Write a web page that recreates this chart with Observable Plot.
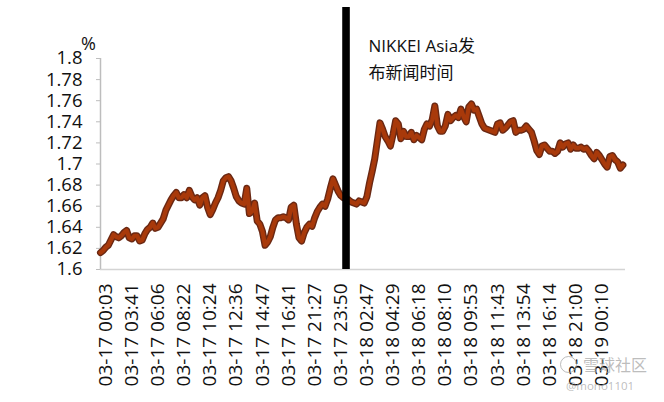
<!DOCTYPE html>
<html><head><meta charset="utf-8">
<script src="https://cdn.jsdelivr.net/npm/d3@7"></script>
<script src="https://cdn.jsdelivr.net/npm/@observablehq/plot@0.6"></script>
<style>
html,body{margin:0;padding:0;background:#fff;}
#wrap{position:relative;width:664px;height:402px;overflow:hidden;background:#fff;}
.wm{position:absolute;color:rgba(160,160,160,0.7);font-family:"Noto Sans CJK SC","Open Sans",sans-serif;white-space:nowrap;}
</style></head><body><div id="wrap"></div>
<script>
// Category labels shown on the x axis (time stamps)
const timeLabels = ["03-17 00:03","03-17 03:41","03-17 06:06","03-17 08:22","03-17 10:24","03-17 12:36","03-17 14:47","03-17 16:41","03-17 21:27","03-17 23:50","03-18 02:47","03-18 04:29","03-18 06:18","03-18 08:10","03-18 09:53","03-18 11:43","03-18 13:54","03-18 16:14","03-18 21:00","03-19 00:10"];
// sample index at which each label sits
const labelSample = [2,12,22,32,42,52,62,72,82,92,102,112,122,132,142,152,162,172,182,192];
// yield (%), one value per sample
const yieldValues = [
1.616,1.618,1.621,1.623,1.628,1.633,1.631,1.630,1.632,1.635,
1.637,1.630,1.629,1.632,1.632,1.627,1.628,1.634,1.638,1.640,
1.644,1.639,1.640,1.644,1.648,1.656,1.661,1.666,1.670,1.673,
1.668,1.668,1.671,1.668,1.675,1.669,1.666,1.668,1.661,1.668,
1.670,1.659,1.652,1.657,1.663,1.668,1.675,1.684,1.687,1.688,
1.684,1.677,1.669,1.665,1.663,1.662,1.677,1.653,1.655,1.663,
1.646,1.643,1.636,1.623,1.626,1.631,1.640,1.647,1.649,1.649,
1.650,1.649,1.647,1.659,1.661,1.643,1.630,1.627,1.635,1.640,
1.643,1.641,1.649,1.655,1.659,1.662,1.660,1.667,1.677,1.686,
1.680,1.674,1.670,1.668,1.667,1.666,1.664,1.663,1.662,1.665,
1.664,1.663,1.669,1.682,1.693,1.705,1.722,1.739,1.733,1.726,
1.722,1.717,1.728,1.741,1.738,1.724,1.731,1.726,1.726,1.730,
1.723,1.727,1.725,1.723,1.733,1.738,1.736,1.742,1.755,1.736,
1.731,1.731,1.736,1.747,1.741,1.744,1.746,1.744,1.752,1.745,
1.740,1.754,1.757,1.751,1.752,1.745,1.738,1.734,1.733,1.732,
1.731,1.730,1.738,1.739,1.732,1.734,1.737,1.740,1.741,1.730,
1.732,1.732,1.733,1.736,1.733,1.730,1.722,1.713,1.709,1.717,
1.718,1.715,1.712,1.712,1.710,1.712,1.720,1.716,1.719,1.720,
1.714,1.718,1.715,1.715,1.716,1.714,1.715,1.712,1.708,1.705,
1.711,1.708,1.704,1.700,1.697,1.707,1.708,1.704,1.702,1.696,
1.699];
const yTicks = [1.6,1.62,1.64,1.66,1.68,1.7,1.72,1.74,1.76,1.78,1.8];
const eventSample = [94.0]; // NIKKEI Asia publication time
const eventText = ["NIKKEI Asia发\n布新闻时间"];
const unitLabel = ["%"];

const font = "'Open Sans','Noto Sans CJK SC',sans-serif";
const chart = Plot.plot({
  width: 664, height: 402,
  marginLeft: 100, marginRight: 39, marginTop: 7, marginBottom: 133,
  style: {fontFamily: font, fontSize: "19px", color: "#111", background: "#fff", overflow: "visible"},
  x: {domain: [0, 201], axis: null},
  y: {domain: [yTicks[0], yTicks[yTicks.length-1]], range: [269, 58], axis: null},
  marks: [
    Plot.ruleY([yTicks[0]], {stroke: "#d4d4d4", strokeWidth: 1.5}),
    Plot.ruleX([0], {y1: yTicks[0], y2: yTicks[yTicks.length-1], stroke: "#bdbdbd", strokeWidth: 1.5}),
    Plot.axisY({ticks: yTicks, tickSize: 4, tickPadding: 14, stroke: "#bdbdbd", fontSize: 18.5,
      tickFormat: d => String(+d.toFixed(2))}),
    Plot.axisX({ticks: labelSample, tickSize: 0, tickPadding: 14, tickRotate: -90, fontSize: 19,
      tickFormat: d => timeLabels[labelSample.indexOf(d)]}),
    Plot.line(yieldValues, {x: (d, i) => i, y: d => d, stroke: "#6a2813", strokeWidth: 7, strokeLinejoin: "round", strokeLinecap: "round"}),
    Plot.line(yieldValues, {x: (d, i) => i, y: d => d, stroke: "#a8390a", strokeWidth: 4.2, strokeLinejoin: "round", strokeLinecap: "round"}),
    Plot.ruleX(eventSample, {stroke: "#000", strokeWidth: 7.6}),
    Plot.text(eventText, {x: eventSample[0], frameAnchor: "top", dx: 22.5, dy: 25, textAnchor: "start", lineAnchor: "top", lineHeight: 1.6, fontSize: 17, fill: "#111", text: d => d}),
    Plot.text(unitLabel, {frameAnchor: "top-left", dx: -12, dy: 30, textAnchor: "middle", fontSize: 18, fill: "#111", text: d => d})
  ]
});
const wrap = document.getElementById("wrap");
wrap.appendChild(chart);
const wm1 = document.createElement("div");
wm1.className = "wm";
wm1.style.cssText = "left:560px;top:352px;font-size:16px;";
wm1.innerHTML = '<span style="display:inline-block;width:15px;height:15px;border:1.5px solid rgba(160,160,160,0.7);border-radius:50%;vertical-align:-2px;margin-right:6px;"></span>雪球社区';
wrap.appendChild(wm1);
const wm2 = document.createElement("div");
wm2.className = "wm";
wm2.style.cssText = "left:566px;top:378px;font-size:11.5px;font-family:'Open Sans',sans-serif;";
wm2.textContent = "@mono1101";
wrap.appendChild(wm2);
</script>
</body></html>
